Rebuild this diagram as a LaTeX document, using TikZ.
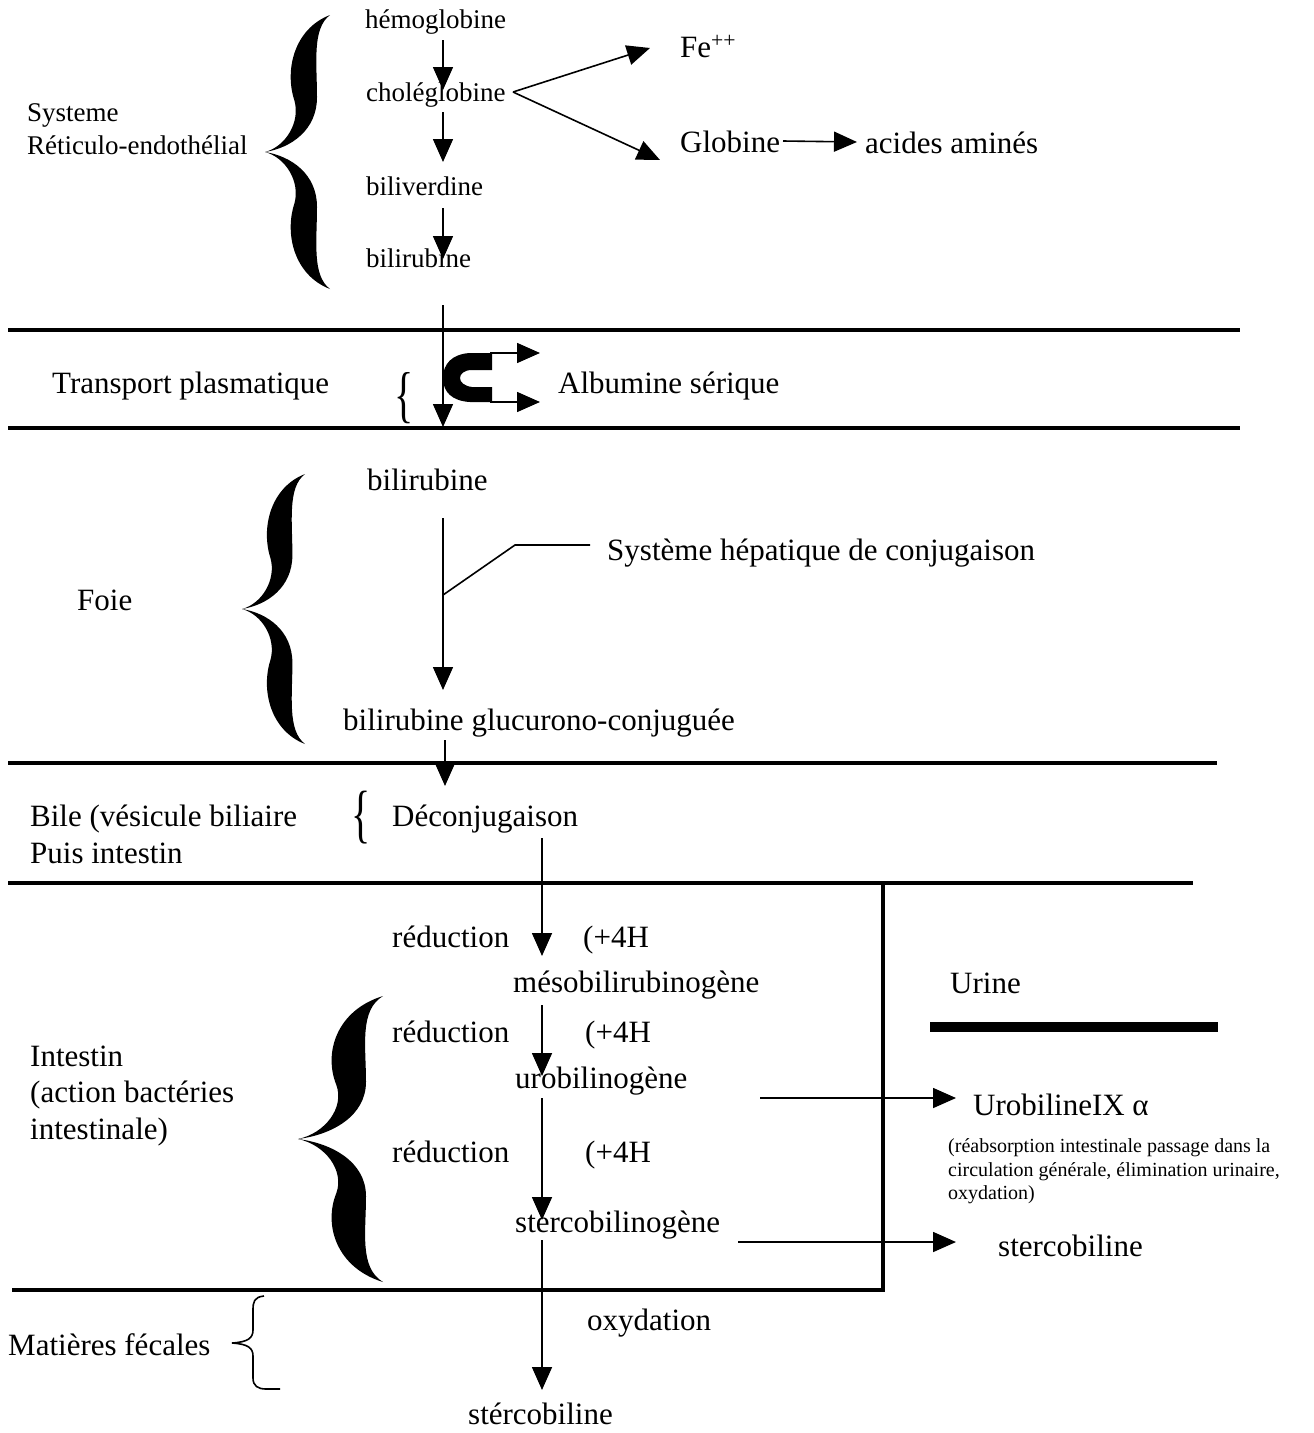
\documentclass[tikz,border=0pt]{standalone}
\usepackage{fontspec}
\setmainfont{Liberation Serif}
\usetikzlibrary{arrows.meta}
\tikzset{
  sm/.style={font=\fontsize{27}{32}\selectfont, inner sep=0pt, anchor=base west},
  lg/.style={font=\fontsize{31}{36}\selectfont, inner sep=0pt, anchor=base west},
  nt/.style={font=\fontsize{20}{24}\selectfont, inner sep=0pt, anchor=base west},
  arr/.style={line width=1.6pt, -{Triangle[length=23pt,width=20pt]}},
  thin line/.style={line width=1.6pt},
  sepline/.style={line width=4pt},
  smallbrace/.style={font=\fontsize{40}{40}\selectfont, inner sep=0pt, transform shape},
  bigbrace/.pic={
    \fill (1,-1) .. controls (0.45,-0.9) and (0.3,-0.6) .. (0.45,-0.38)
      .. controls (0.55,-0.22) and (0.32,-0.04) .. (0,0)
      .. controls (0.4,-0.03) and (0.8,-0.16) .. (0.8,-0.4)
      .. controls (0.8,-0.65) and (0.72,-0.9) .. (1,-1) -- cycle;
    \fill (1,1) .. controls (0.45,0.9) and (0.3,0.6) .. (0.45,0.38)
      .. controls (0.55,0.22) and (0.32,0.04) .. (0,0)
      .. controls (0.4,0.03) and (0.8,0.16) .. (0.8,0.4)
      .. controls (0.8,0.65) and (0.72,0.9) .. (1,1) -- cycle;
  }
}
\begin{document}
\begin{tikzpicture}[x=1pt,y=-1pt]
\useasboundingbox[fill=white] (0,0) rectangle (1314,1433);

% ---------- Systeme reticulo-endothelial ----------
\pic[xscale=65,yscale=137] at (265,152) {bigbrace};
\node[sm] (sys1) at (27,121) {Systeme};
\node[sm] (sys2) at (27,154) {Réticulo-endothélial};
\node[sm] (hem) at (365,28) {hémoglobine};
\node[sm] (chol) at (366,101) {choléglobine};
\node[sm] (biv) at (366,195) {biliverdine};
\node[sm] (bir) at (366,267) {bilirubine};
\coordinate (a1s) at (443,40);  \coordinate (a1e) at (443,90);
\coordinate (a2s) at (443,112); \coordinate (a2e) at (443,162);
\coordinate (a3s) at (443,208); \coordinate (a3e) at (443,259);
\draw[arr] (a1s) -- (a1e);
\draw[arr] (a2s) -- (a2e);
\draw[arr] (a3s) -- (a3e);
\coordinate (fork) at (513,92);
\node[lg] (fe) at (680,57) {Fe\textsuperscript{++}};
\node[lg] (glob) at (680,152) {Globine};
\node[lg] (aa) at (865,153) {acides aminés};
\coordinate (fetip) at (650,48);
\coordinate (globtip) at (660,160);
\draw[arr] (fork) -- (fetip);
\draw[arr] (fork) -- (globtip);
\coordinate (gs) at (783,141); \coordinate (ge) at (857,142);
\draw[arr] (gs) -- (ge);

% ---------- separators ----------
\coordinate (l1a) at (8,330);  \coordinate (l1b) at (1240,330);
\coordinate (l2a) at (8,428);  \coordinate (l2b) at (1240,428);
\coordinate (l3a) at (8,763);  \coordinate (l3b) at (1217,763);
\coordinate (l4a) at (8,883);  \coordinate (l4b) at (1193,883);
\coordinate (l5a) at (12,1290); \coordinate (boxc) at (883,1290);
\coordinate (boxt) at (883,883);
\draw[sepline] (l1a) -- (l1b);
\draw[sepline] (l2a) -- (l2b);
\draw[sepline] (l3a) -- (l3b);
\draw[sepline] (l4a) -- (l4b);
\draw[sepline] (l5a) -- (boxc) -- (boxt);

% ---------- Transport plasmatique ----------
\node[lg] (tp) at (52,393) {Transport plasmatique};
\node[smallbrace, yscale=1.55] (tpb) at (404,398) {\{};
\coordinate (ts) at (443,305); \coordinate (te) at (443,427);
\draw[arr] (ts) -- (te);
\fill (492,353) -- (470,353) .. controls (452,354) and (443,364) .. (443,378)
  .. controls (443,392) and (452,401) .. (470,402) -- (492,402) -- (492,387)
  -- (472,387) .. controls (464,386) and (460,382) .. (460,378)
  .. controls (460,374) and (464,370) .. (472,370) -- (492,370) -- cycle;
\coordinate (u1) at (490,353); \coordinate (u1e) at (540,353);
\coordinate (u2) at (490,402); \coordinate (u2e) at (540,402);
\draw[arr] (u1) -- (u1e);
\draw[arr] (u2) -- (u2e);
\node[lg] (alb) at (558,393) {Albumine sérique};

% ---------- Foie ----------
\pic[xscale=63,yscale=135] at (242,609) {bigbrace};
\node[lg] (foie) at (77,610) {Foie};
\node[lg] (bil2) at (367,490) {bilirubine};
\coordinate (fs) at (443,518); \coordinate (fe2) at (443,690);
\draw[arr] (fs) -- (fe2);
\coordinate (hj) at (443,595);
\node[lg] (shc) at (607,560) {Système hépatique de conjugaison};
\draw[thin line] (hj) -- (515,545) -- (590,545);
\node[lg] (glu) at (343,730) {bilirubine glucurono-conjuguée};
\coordinate (gs2) at (445,740); \coordinate (ge2) at (445,786);
\draw[arr] (gs2) -- (ge2);

% ---------- Bile ----------
\node[lg] (bile1) at (30,826) {Bile (vésicule biliaire};
\node[lg] (bile2) at (30,863) {Puis intestin};
\node[smallbrace, yscale=1.6] (bileb) at (361,818) {\{};
\node[lg] (dec) at (392,826) {Déconjugaison};

% ---------- Intestin ----------
\pic[xscale=85,yscale=143] at (298,1139) {bigbrace};
\node[lg] (int1) at (30,1066) {Intestin};
\node[lg] (int2) at (30,1102) {(action bactéries};
\node[lg] (int3) at (30,1139) {intestinale)};
\coordinate (r1s) at (542,838);  \coordinate (r1e) at (542,956);
\node[lg] (red1) at (392,947) {réduction};
\node[lg] (h1) at (583,947) {(+4H};
\node[lg] (meso) at (513,992) {mésobilirubinogène};
\coordinate (r2s) at (542,1005); \coordinate (r2e) at (542,1076);
\node[lg] (red2) at (392,1042) {réduction};
\node[lg] (h2) at (585,1042) {(+4H};
\node[lg] (uro) at (515,1088) {urobilinogène};
\coordinate (r3s) at (542,1098); \coordinate (r3e) at (542,1220);
\node[lg] (red3) at (392,1162) {réduction};
\node[lg] (h3) at (585,1162) {(+4H};
\node[lg] (sterg) at (515,1232) {stercobilinogène};
\coordinate (r4s) at (542,1240); \coordinate (r4e) at (542,1390);
\draw[arr] (r1s) -- (r1e);
\draw[arr] (r2s) -- (r2e);
\draw[arr] (r3s) -- (r3e);
\draw[arr] (r4s) -- (r4e);
\node[lg] (oxy) at (587,1330) {oxydation};
\node[lg] (sterf) at (468,1424) {stércobiline};

% ---------- Urine ----------
\node[lg] (urine) at (950,993) {Urine};
\coordinate (ub1) at (930,1027); \coordinate (ub2) at (1218,1027);
\draw[line width=10pt] (ub1) -- (ub2);
\coordinate (uas) at (760,1098); \coordinate (uae) at (956,1098);
\draw[arr] (uas) -- (uae);
\node[lg] (urob) at (973,1115) {UrobilineIX α};
\node[nt] (n1) at (948,1152) {(réabsorption intestinale passage dans la};
\node[nt] (n2) at (948,1176) {circulation générale, élimination urinaire,};
\node[nt] (n3) at (948,1199) {oxydation)};
\coordinate (sas) at (738,1242); \coordinate (sae) at (956,1242);
\draw[arr] (sas) -- (sae);
\node[lg] (sterc) at (998,1256) {stercobiline};

% ---------- Matieres fecales ----------
\node[lg] (mf) at (8,1355) {Matières fécales};
\coordinate (mbt) at (232,1343);
\draw[line width=1.6pt] (264,1296) .. controls (254,1297) and (253,1302) .. (253,1310)
  -- (253,1330) .. controls (253,1338) and (248,1342) .. (mbt)
  .. controls (248,1344) and (253,1348) .. (253,1356)
  -- (253,1378) .. controls (253,1386) and (258,1389) .. (266,1389) -- (280,1389);
\end{tikzpicture}
\end{document}
